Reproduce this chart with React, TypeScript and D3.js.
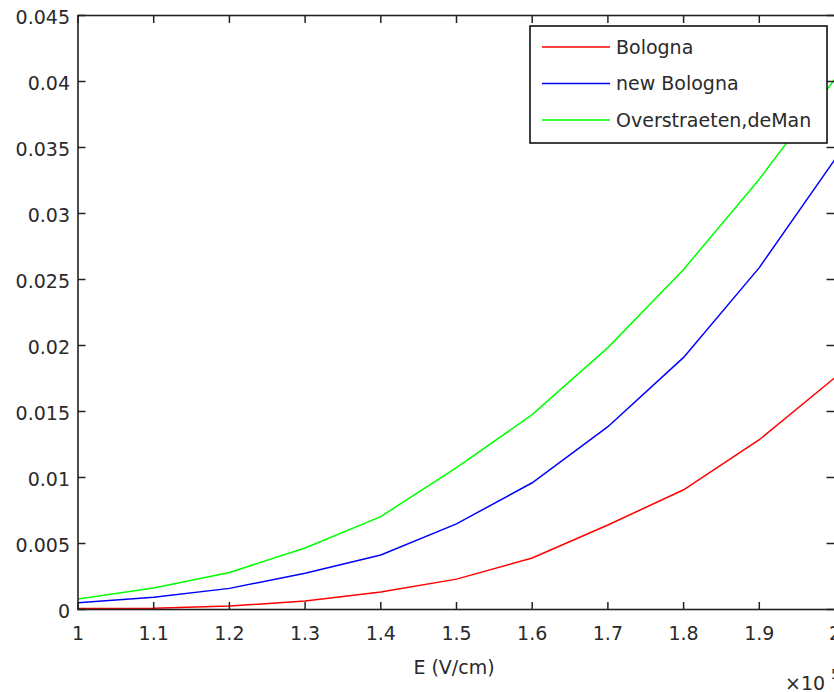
import React from "react";
import * as d3 from "d3";

const E = [1, 1.1, 1.2, 1.3, 1.4, 1.5, 1.6, 1.7, 1.8, 1.9, 2.0];
const bologna = [0.00008, 0.0001, 0.00026, 0.00064, 0.00133, 0.0023, 0.0039, 0.0064, 0.00907, 0.01286, 0.01757];
const newBologna = [0.00052, 0.00093, 0.0016, 0.00275, 0.00413, 0.00649, 0.0096, 0.01385, 0.0191, 0.0259, 0.0341];
const overstraeten = [0.0008, 0.00163, 0.0028, 0.00466, 0.00704, 0.01074, 0.01476, 0.01984, 0.02576, 0.0326, 0.0402];
const xTicks = [1, 1.1, 1.2, 1.3, 1.4, 1.5, 1.6, 1.7, 1.8, 1.9, 2];
const yTicks = [0, 0.005, 0.01, 0.015, 0.02, 0.025, 0.03, 0.035, 0.04, 0.045];
const seriesNames = ["Bologna", "new Bologna", "Overstraeten,deMan"];
const seriesColors = ["#ff0000", "#0000ff", "#00ff00"];
const seriesData = [bologna, newBologna, overstraeten];

const W = 834;
const H = 692;
const L = 78;
const R = 835;
const T = 15.5;
const B = 609.5;

export default function App() {
  const x = d3.scaleLinear().domain([1, 2]).range([L, R]);
  const y = d3.scaleLinear().domain([0, 0.045]).range([B, T]);
  const line = d3
    .line<number>()
    .x((_, i) => x(E[i]))
    .y((d) => y(d));
  const font = "'DejaVu Sans', sans-serif";
  const fs = 19;
  const tl = 7.5;
  const tc = "#2a2a2a";
  return (
    <svg
      width={W}
      height={H}
      style={{ position: "absolute", left: 0, top: 0, background: "#fff" }}
      fontFamily={font}
    >
      <rect x={0} y={0} width={W} height={H} fill="#fff" />
      <defs>
        <clipPath id="plotclip">
          <rect x={L} y={T} width={R - L} height={B - T} />
        </clipPath>
      </defs>
      {seriesData.map((s, i) => (
        <path
          key={i}
          d={line(s) || ""}
          fill="none"
          stroke={seriesColors[i]}
          strokeWidth={1.5}
          clipPath="url(#plotclip)"
        />
      ))}
      <rect x={L} y={T} width={R - L} height={B - T} fill="none" stroke="#222" strokeWidth={1.6} />
      {xTicks.map((t, i) => (
        <g key={"x" + i}>
          <line x1={x(t)} x2={x(t)} y1={B} y2={B - tl} stroke="#222" strokeWidth={1.5} />
          <line x1={x(t)} x2={x(t)} y1={T} y2={T + tl} stroke="#222" strokeWidth={1.5} />
          <text x={x(t)} y={640} textAnchor="middle" fontSize={fs} fill={tc}>
            {d3.format("")(t)}
          </text>
        </g>
      ))}
      {yTicks.map((t, i) => (
        <g key={"y" + i}>
          <line x1={L} x2={L + tl} y1={y(t)} y2={y(t)} stroke="#222" strokeWidth={1.5} />
          <line x1={R - 1} x2={R - 1 - tl} y1={y(t)} y2={y(t)} stroke="#222" strokeWidth={1.5} />
          <text x={70} y={y(t) + 8.5} textAnchor="end" fontSize={fs} fill={tc}>
            {d3.format("")(+t.toFixed(3))}
          </text>
        </g>
      ))}
      <text x={454} y={674} textAnchor="middle" fontSize={fs} fill={tc}>
        E (V/cm)
      </text>
      <text x={785} y={690} fontSize={fs} fill={tc}>
        ×10
      </text>
      <text x={831} y={679} fontSize={14} fill={tc}>
        5
      </text>
      <rect x={530} y={26} width={297} height={117} fill="#fff" stroke="#111" strokeWidth={1.6} />
      {seriesNames.map((n, i) => {
        const ry = 47 + i * 36.5;
        return (
          <g key={"l" + i}>
            <line x1={542} x2={610} y1={ry} y2={ry} stroke={seriesColors[i]} strokeWidth={1.5} />
            <text x={616} y={ry + 6.5} fontSize={fs} fill={tc}>
              {n}
            </text>
          </g>
        );
      })}
    </svg>
  );
}
